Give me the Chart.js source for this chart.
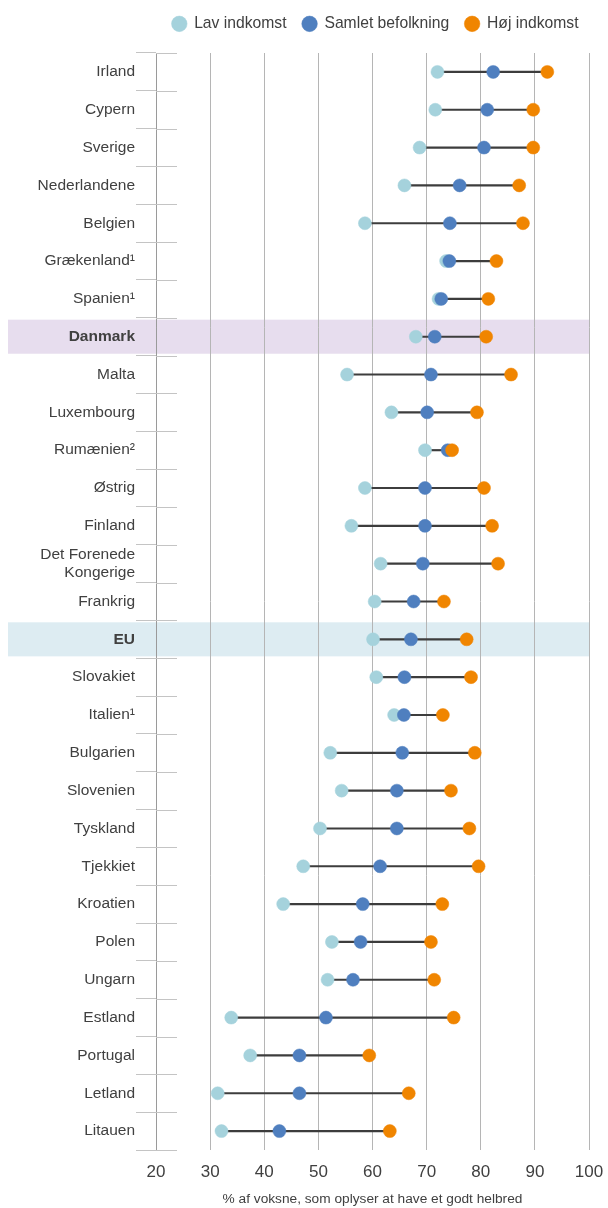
<!DOCTYPE html>
<html><head><meta charset="utf-8">
<script src="https://cdn.jsdelivr.net/npm/chart.js@4/dist/chart.umd.min.js"></script>
<style>html,body{margin:0;padding:0;background:#fff}#wrap{width:608px;height:1208px}</style>
</head><body><div id="wrap"><canvas id="c" width="608" height="1208"></canvas></div>
<script>
const countries = ["Irland","Cypern","Sverige","Nederlandene","Belgien","Grækenland¹","Spanien¹","Danmark","Malta","Luxembourg","Rumænien²","Østrig","Finland",["Det Forenede","Kongerige"],"Frankrig","EU","Slovakiet","Italien¹","Bulgarien","Slovenien","Tyskland","Tjekkiet","Kroatien","Polen","Ungarn","Estland","Portugal","Letland","Litauen"];
const lavIndkomst = [72.0,71.6,68.7,65.9,58.6,73.6,72.2,68.0,55.3,63.5,69.7,58.6,56.1,61.5,60.4,60.1,60.7,64.0,52.2,54.3,50.3,47.2,43.5,52.5,51.7,33.9,37.4,31.4,32.1];
const samletBefolkning = [82.3,81.2,80.6,76.1,74.3,74.2,72.7,71.5,70.8,70.1,73.9,69.7,69.7,69.3,67.6,67.1,65.9,65.8,65.5,64.5,64.5,61.4,58.2,57.8,56.4,51.4,46.5,46.5,42.8];
const hojIndkomst = [92.3,89.7,89.7,87.1,87.8,82.9,81.4,81.0,85.6,79.3,74.7,80.6,82.1,83.2,73.2,77.4,78.2,73.0,78.9,74.5,77.9,79.6,72.9,70.8,71.4,75.0,59.4,66.7,63.2];
const seriesNames = ["Lav indkomst","Samlet befolkning","Høj indkomst"];
const xMin = 20, xMax = 100, xStep = 10;
const axisTitle = "% af voksne, som oplyser at have et godt helbred";
const highlighted = {"Danmark": "#e7ddee", "EU": "#ddecf2"};

const FONT = "'Liberation Sans', Arial, sans-serif";
const TXT = '#404040';
const keyOf = c => Array.isArray(c) ? c.join(' ') : c;

const ranges = countries.map((_, i) => {
  const v = [lavIndkomst[i], samletBefolkning[i], hojIndkomst[i]];
  return [Math.min(...v), Math.max(...v)];
});

const legendTweak = {
  id: 'legendTweak',
  beforeInit(chart) {
    const lg = chart.legend;
    const fit = lg.fit;
    lg.fit = function () {
      fit.call(lg);
      lg.height = 53;
      lg.lineWidths = lg.lineWidths.map(w => w + 0.5);
    };
  },
  afterLayout(chart) {
    const lg = chart.legend;
    lg.left += 6;
    lg.right += 6;
  }
};

const bandPlugin = {
  id: 'bands',
  beforeDraw(chart) {
    const y = chart.scales.y, area = chart.chartArea, ctx = chart.ctx;
    const step = Math.abs(y.getPixelForValue(1) - y.getPixelForValue(0));
    ctx.save();
    countries.forEach((c, i) => {
      const col = highlighted[keyOf(c)];
      if (col) {
        const py = y.getPixelForValue(i);
        ctx.fillStyle = col;
        ctx.fillRect(8, py - step * 0.45, area.right - 8, step * 0.9);
      }
    });
    ctx.restore();
  },
  beforeDatasetsDraw(chart) {
    const y = chart.scales.y, area = chart.chartArea, ctx = chart.ctx;
    ctx.save();
    ctx.strokeStyle = '#c4c4c4';
    ctx.lineWidth = 1;
    for (let i = 0; i <= countries.length; i++) {
      const py = Math.round(y.getPixelForValue(i - 0.5)) + 0.5;
      ctx.beginPath();
      ctx.moveTo(area.left, py);
      ctx.lineTo(area.left + 21, py);
      ctx.stroke();
    }
    ctx.restore();
  }
};

const pointDs = (label, data, color, order) => ({
  type: 'line', label, data, showLine: false, order,
  backgroundColor: color, borderColor: color,
  pointStyle: 'circle', pointRadius: 6.5, pointBorderWidth: 0.5,
  pointBackgroundColor: color, pointBorderColor: color
});

new Chart(document.getElementById('c'), {
  type: 'bar',
  data: {
    labels: countries,
    datasets: [
      { type: 'bar', label: 'range', data: ranges, backgroundColor: '#3d3d3d', borderWidth: 0, barThickness: 1.5, order: 10 },
      pointDs(seriesNames[0], lavIndkomst, '#a5d2dc', 3),
      pointDs(seriesNames[1], samletBefolkning, '#4f7fbf', 2),
      pointDs(seriesNames[2], hojIndkomst, '#f08500', 1)
    ]
  },
  options: {
    indexAxis: 'y',
    responsive: false,
    animation: false,
    layout: { padding: { top: 0, right: 19, bottom: 0, left: 0 } },
    plugins: {
      tooltip: { enabled: false },
      legend: {
        position: 'top', align: 'end',
        labels: {
          filter: item => item.datasetIndex !== 0,
          sort: (a, b) => a.datasetIndex - b.datasetIndex,
          usePointStyle: true, pointStyle: 'circle',
          boxWidth: 14, boxHeight: 11, padding: 16,
          color: TXT, font: { family: FONT, size: 15.7 }
        }
      }
    },
    scales: {
      x: {
        type: 'linear', position: 'bottom', min: xMin, max: xMax,
        afterFit: s => { s.height = 58; s.paddingRight = 0; s.paddingLeft = 0; },
        ticks: { stepSize: xStep, padding: 12, color: TXT, font: { family: FONT, size: 17 } },
        grid: { drawTicks: false, color: c => c.tick && c.tick.value === xMin ? '#9a9a9a' : '#b5b5b5', lineWidth: 1 },
        border: { display: false },
        title: { display: true, text: axisTitle, color: TXT, font: { family: FONT, size: 13.7 }, padding: { top: 6, bottom: 1 } }
      },
      y: {
        type: 'category', offset: true,
        afterFit: s => { s.width = 156; },
        grid: { offset: true, drawOnChartArea: false, drawTicks: true, tickLength: 20, color: '#c4c4c4' },
        border: { display: true, color: '#9a9a9a' },
        ticks: {
          autoSkip: false, padding: 1, color: TXT,
          font: c => ({ family: FONT, size: 15.5, lineHeight: 1.15,
            weight: highlighted[keyOf(countries[c.index])] ? 'bold' : 'normal' })
        }
      }
    }
  },
  plugins: [legendTweak, bandPlugin]
});
</script></body></html>
